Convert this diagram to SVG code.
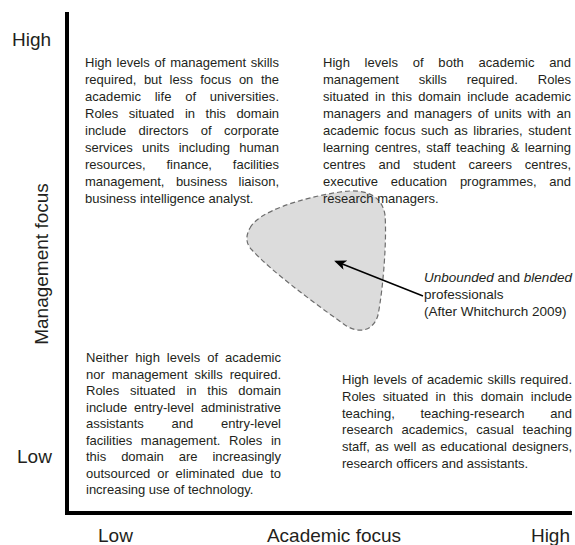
<svg xmlns="http://www.w3.org/2000/svg" width="575" height="545" viewBox="0 0 575 545">
<style>
.ax{font-family:"Liberation Sans",Arial,sans-serif;font-size:19px;fill:#231f20}
.b{font-family:"Liberation Sans",Arial,sans-serif;font-size:13px;fill:#231f20}
.lb{font-family:"Liberation Sans",Arial,sans-serif;font-size:13.5px;fill:#231f20}
.axis{stroke:#000;stroke-width:4;fill:none}
</style>
<defs>
<marker id="ah" viewBox="0 0 12 10" refX="10" refY="5" markerWidth="12" markerHeight="10" markerUnits="userSpaceOnUse" orient="auto">
<path d="M0,0 L12,5 L0,10 L3,5 Z" fill="#000"/>
</marker>
</defs>
<rect width="575" height="545" fill="#fff"/>
<g id="axes">
<line class="axis" x1="67" y1="12" x2="67" y2="515"/>
<line class="axis" x1="65" y1="513" x2="572" y2="513"/>
</g>
<g id="axis-labels">
<text class="ax" x="12" y="46">High</text>
<text class="ax" x="17" y="463">Low</text>
<text class="ax" transform="translate(48,264) rotate(-90)" text-anchor="middle">Management focus</text>
<text class="ax" x="98" y="542">Low</text>
<text class="ax" x="334" y="542" text-anchor="middle">Academic focus</text>
<text class="ax" x="570" y="542" text-anchor="end">High</text>
</g>
<g id="blended-zone">
<path d="M250,228 C258,212 300,198 340,192 C365,188 382,195 385,215 C387,240 383,290 378,315 C374,330 360,335 345,325 C310,300 270,270 252,250 C245,243 246,235 250,228 Z" fill="#dcdcdc" stroke="#6d6d6d" stroke-width="1.2" stroke-dasharray="5 3"/>
</g>
<g id="quadrant-top-left">
<text class="b" x="85" y="67" textLength="194" lengthAdjust="spacing" style="word-spacing:1.2px">High levels of management skills</text>
<text class="b" x="85" y="84" textLength="194" lengthAdjust="spacing" style="word-spacing:4px">required, but less focus on the</text>
<text class="b" x="85" y="101" textLength="194" lengthAdjust="spacing" style="word-spacing:10px">academic life of universities.</text>
<text class="b" x="85" y="118" textLength="194" lengthAdjust="spacing" style="word-spacing:7px">Roles situated in this domain</text>
<text class="b" x="85" y="135" textLength="194" lengthAdjust="spacing" style="word-spacing:8.8px">include directors of corporate</text>
<text class="b" x="85" y="152" textLength="194" lengthAdjust="spacing" style="word-spacing:5.7px">services units including human</text>
<text class="b" x="85" y="169" textLength="194" lengthAdjust="spacing" style="word-spacing:17.2px">resources, finance, facilities</text>
<text class="b" x="85" y="186" textLength="194" lengthAdjust="spacing" style="word-spacing:7.8px">management, business liaison,</text>
<text class="b" x="85" y="203">business intelligence analyst.</text>
</g>
<g id="quadrant-top-right">
<text class="b" x="323" y="67" textLength="248" lengthAdjust="spacing" style="word-spacing:11px">High levels of both academic and</text>
<text class="b" x="323" y="84" textLength="248" lengthAdjust="spacing" style="word-spacing:16.2px">management skills required. Roles</text>
<text class="b" x="323" y="101" textLength="248" lengthAdjust="spacing" style="word-spacing:2.6px">situated in this domain include academic</text>
<text class="b" x="323" y="118" textLength="248" lengthAdjust="spacing" style="word-spacing:2.2px">managers and managers of units with an</text>
<text class="b" x="323" y="135" textLength="248" lengthAdjust="spacing" style="word-spacing:1.8px">academic focus such as libraries, student</text>
<text class="b" x="323" y="152" textLength="248" lengthAdjust="spacing" style="word-spacing:1.8px">learning centres, staff teaching &amp; learning</text>
<text class="b" x="323" y="169" textLength="248" lengthAdjust="spacing" style="word-spacing:9.3px">centres and student careers centres,</text>
<text class="b" x="323" y="186" textLength="248" lengthAdjust="spacing" style="word-spacing:9.2px">executive education programmes, and</text>
<text class="b" x="323" y="203">research managers.</text>
</g>
<g id="quadrant-bottom-left">
<text class="b" x="86" y="362" textLength="195" lengthAdjust="spacing" style="word-spacing:3.2px">Neither high levels of academic</text>
<text class="b" x="86" y="378.5" textLength="195" lengthAdjust="spacing" style="word-spacing:3.3px">nor management skills required.</text>
<text class="b" x="86" y="395" textLength="195" lengthAdjust="spacing" style="word-spacing:7.2px">Roles situated in this domain</text>
<text class="b" x="86" y="411.5" textLength="195" lengthAdjust="spacing" style="word-spacing:3.2px">include entry-level administrative</text>
<text class="b" x="86" y="428" textLength="195" lengthAdjust="spacing" style="word-spacing:24.2px">assistants and entry-level</text>
<text class="b" x="86" y="444.5" textLength="195" lengthAdjust="spacing" style="word-spacing:5px">facilities management. Roles in</text>
<text class="b" x="86" y="461" textLength="195" lengthAdjust="spacing" style="word-spacing:11.3px">this domain are increasingly</text>
<text class="b" x="86" y="477.5" textLength="195" lengthAdjust="spacing" style="word-spacing:3.2px">outsourced or eliminated due to</text>
<text class="b" x="86" y="494">increasing use of technology.</text>
</g>
<g id="quadrant-bottom-right">
<text class="b" x="342" y="384" textLength="230" lengthAdjust="spacing" style="word-spacing:0.9px">High levels of academic skills required.</text>
<text class="b" x="342" y="400.8" textLength="230" lengthAdjust="spacing" style="word-spacing:3.8px">Roles situated in this domain include</text>
<text class="b" x="342" y="417.6" textLength="230" lengthAdjust="spacing" style="word-spacing:22.1px">teaching, teaching-research and</text>
<text class="b" x="342" y="434.4" textLength="230" lengthAdjust="spacing" style="word-spacing:4.9px">research academics, casual teaching</text>
<text class="b" x="342" y="451.2" textLength="230" lengthAdjust="spacing" style="word-spacing:1.5px">staff, as well as educational designers,</text>
<text class="b" x="342" y="468">research officers and assistants.</text>
</g>
<g id="blended-label">
<text class="lb" x="424" y="282"><tspan font-style="italic">Unbounded</tspan> and <tspan font-style="italic">blended</tspan></text>
<text class="lb" x="424" y="299">professionals</text>
<text class="lb" x="424" y="316">(After Whitchurch 2009)</text>
</g>
<g id="connectors">
<line x1="423" y1="296" x2="336" y2="261.5" stroke="#000" stroke-width="1.5" marker-end="url(#ah)"/>
</g>
</svg>
